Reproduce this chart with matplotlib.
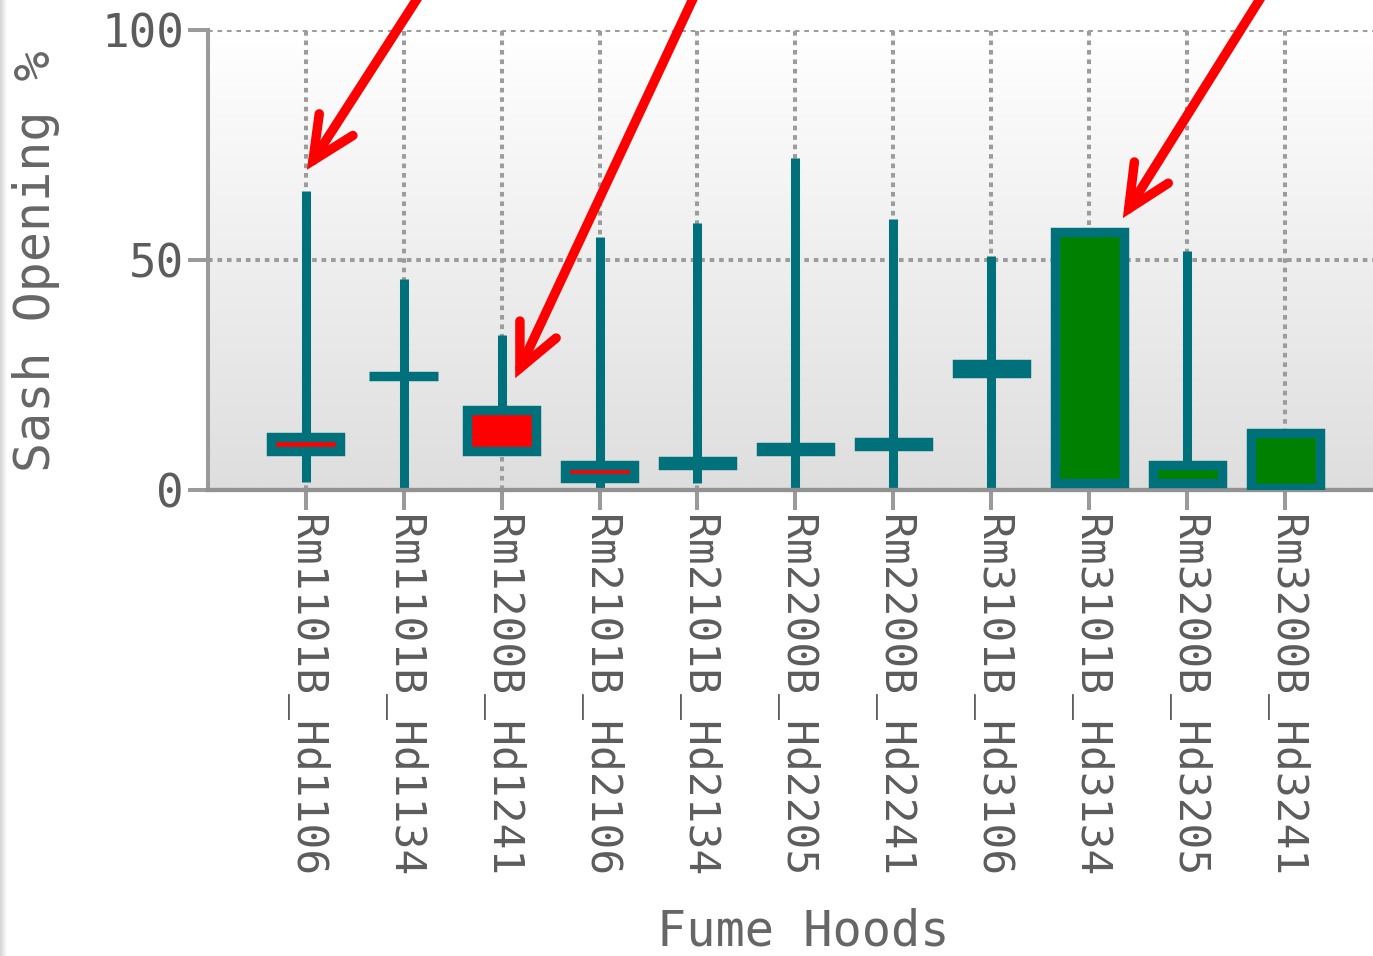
import numpy as np
import matplotlib
matplotlib.use("Agg")
import matplotlib.pyplot as plt
from matplotlib.colors import LinearSegmentedColormap
from matplotlib.patches import Rectangle

# Sash opening statistics per fume hood (percent)
hoods = ["Rm1101B_Hd1106", "Rm1101B_Hd1134", "Rm1200B_Hd1241", "Rm2101B_Hd2106",
         "Rm2101B_Hd2134", "Rm2200B_Hd2205", "Rm2200B_Hd2241", "Rm3101B_Hd3106",
         "Rm3101B_Hd3134", "Rm3200B_Hd3205", "Rm3200B_Hd3241"]
opens = [11.6, 24.8, 17.4, 5.5, 6.4, 9.4, 10.5, 27.5, 1.6, 1.6, 0.5]
closes = [8.4, 24.7, 8.4, 2.55, 5.4, 8.4, 9.5, 25.5, 56.0, 5.5, 12.5]
highs = [65.0, 45.9, 33.7, 55.0, 58.0, 72.2, 58.9, 50.9, 56.0, 52.0, 12.5]
lows = [1.7, 0.0, 8.4, 0.3, 1.5, 0.0, 0.0, 0.0, 1.6, 1.6, 0.5]
y_ticks = [0, 50, 100]

# Highlight arrows: (tip x, tip y, tail x, tail y) in data units
arrow_tip_x = [0.015, 2.14, 8.34]
arrow_tip_y = [69.6, 24.3, 59.1]
arrow_tail_x = [1.23, 4.02, 9.83]
arrow_tail_y = [109.8, 109.8, 109.8]

TEAL = "#00717b"
UP = "#008000"
DOWN = "#ff0000"
GRID = "#9c9c9c"
AXIS = "#9a9a9a"
TEXT = "#5c5c5c"
MONO = ["DejaVu Sans Mono"]

W, H = 1373, 956
fig = plt.figure(figsize=(W / 100, H / 100), dpi=100)
fig.patch.set_facecolor("white")

# thin shaded strip along the left edge of the canvas
edge = fig.add_axes([0, 0, 7 / W, 1])
edge.imshow(np.linspace(0, 1, 64).reshape(1, -1), aspect="auto",
            cmap=LinearSegmentedColormap.from_list("edge", ["#d4d4d4", "#ffffff"]))
edge.set_axis_off()

ax = fig.add_axes([208 / W, 466 / H, (W - 208) / W, 460 / H])
x_lo, x_hi = -0.995, 10.893
ax.set_xlim(x_lo, x_hi)
ax.set_ylim(0, 100)

# vertical background gradient in the plot area
bg = LinearSegmentedColormap.from_list("bg", ["#dedede", "#ffffff"])
ax.imshow(np.linspace(0, 1, 256).reshape(-1, 1), extent=(x_lo, x_hi, 0, 100),
          origin="lower", cmap=bg, aspect="auto", zorder=0)
ax.set_xlim(x_lo, x_hi)
ax.set_ylim(0, 100)
ax.set_facecolor("none")

# dotted grid
ax.set_axisbelow(True)
ax.grid(True, color=GRID, linestyle=(0, (1.15, 1.2)), linewidth=2.9)

# candles
x = np.arange(len(hoods))
body_w = 0.71
ax.vlines(x, lows, highs, colors=TEAL, linewidth=6.5, capstyle="butt", zorder=2)
for xi, o, c in zip(x, opens, closes):
    lo, hi = min(o, c), max(o, c)
    fill = UP if c > o else DOWN
    ax.add_patch(Rectangle((xi - body_w / 2, lo), body_w, hi - lo,
                           facecolor=fill, edgecolor=TEAL, linewidth=6.8,
                           joinstyle="miter", zorder=3))

# spines and ticks
for side in ("top", "right"):
    ax.spines[side].set_visible(False)
ax.spines["left"].set_color(AXIS)
ax.spines["left"].set_linewidth(2.9)
ax.spines["bottom"].set_color("#929292")
ax.spines["bottom"].set_linewidth(3.1)

ax.set_yticks(y_ticks)
ax.set_yticklabels([str(v) for v in y_ticks], fontfamily=MONO, fontsize=33, color=TEXT)
ax.set_xticks(x)
ax.set_xticklabels(hoods, rotation=-90, fontfamily=MONO, fontsize=31, color=TEXT)
ax.tick_params(axis="y", length=14.4, width=2.9, color=AXIS, pad=3)
ax.tick_params(axis="x", length=14.4, width=2.9, color=AXIS, pad=3.6)

# axis titles
fig.text(36 / W, 1 - 261 / H, "Sash Opening %", rotation=90, ha="center", va="center",
         fontfamily=MONO, fontsize=36, color="#666666")
fig.text(803 / W, 1 / H, "Fume Hoods", ha="center", va="bottom",
         fontfamily=MONO, fontsize=35, color="#666666")

# red call-out arrows
for tx, ty, sx, sy in zip(arrow_tip_x, arrow_tip_y, arrow_tail_x, arrow_tail_y):
    ax.annotate("", xy=(tx, ty), xytext=(sx, sy), xycoords="data", textcoords="data",
                annotation_clip=False,
                arrowprops=dict(arrowstyle="->,head_length=3.07,head_width=1.44",
                                color="red", lw=6.8, mutation_scale=10,
                                shrinkA=0, shrinkB=0, capstyle="round",
                                joinstyle="miter"),
                zorder=5)

fig.savefig("out.png", dpi=100)
